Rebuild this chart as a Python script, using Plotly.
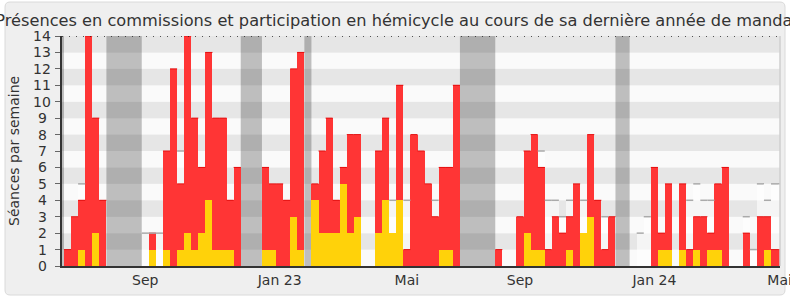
import plotly.graph_objects as go

# ---------------- data (one value per week, bar k centred at x = k) ----------------
weeks = list(range(102))

# total sessions per week (red bar height)
red_total = [
    1, 3, 4, 14, 9, 4,            # k0-5
    0, 0, 0, 0, 0,                # k6-10 (vacances)
    0, 2, 0, 7, 12, 5, 14, 9, 6, 13, 9, 9, 4, 6,   # k11-24
    0, 0, 0,                      # k25-27 (vacances)
    6, 5, 5, 4, 12, 13,           # k28-33
    0,                            # k34 (vacances)
    5, 7, 9, 4, 6, 8, 8, 0, 0, 7, 9, 2, 11, 1, 8, 7, 5, 3, 6, 6, 11,  # k35-55
    0, 0, 0, 0, 0,                # k56-60 (vacances)
    1, 0, 0, 3, 7, 8, 6, 1, 3, 2, 3, 5, 2, 8, 4, 1, 3,   # k61-77
    0, 0,                         # k78-79 (vacances)
    0, 0, 0, 6, 2, 5, 0, 5, 1, 3, 3, 2, 5, 6, 0, 0, 2, 0, 3, 3, 1, 1,  # k80-101
]

# hémicycle participation (yellow, drawn from 0)
yellow = [
    0, 0, 1, 0, 2, 0,
    0, 0, 0, 0, 0,
    0, 1, 0, 1, 0, 1, 2, 1, 2, 4, 1, 1, 1, 0,
    0, 0, 0,
    1, 1, 0, 0, 3, 1,
    0,
    4, 2, 2, 2, 5, 2, 3, 0, 0, 2, 4, 2, 4, 0, 0, 0, 0, 0, 1, 1, 0,
    0, 0, 0, 0, 0,
    0, 0, 0, 0, 2, 1, 1, 0, 0, 0, 1, 0, 2, 3, 0, 0, 0,
    0, 0,
    0, 0, 0, 0, 1, 1, 0, 1, 0, 1, 0, 1, 1, 0, 0, 0, 0, 0, 0, 1, 0, 0,
]

# median deputy (only where visible above the bars)
median = [None] * 102
median_known = {2: 5, 11: 2, 12: 2, 13: 2, 16: 7, 46: 4, 48: 4, 52: 4,
                67: 7, 68: 4, 69: 4, 70: 3, 71: 4, 73: 4, 76: 3, 81: 2, 82: 3,
                88: 4, 89: 5, 90: 4, 91: 4, 96: 3, 97: 1, 98: 5, 99: 4, 100: 5, 101: 5}
for k, v in median_known.items():
    median[k] = v

# parliamentary holidays (first week, last week)
vacations = [(-1, -1), (6, 10), (25, 27), (34, 34), (56, 60), (78, 79)]

tick_weeks = [11, 30, 48, 64, 83, 100.72]
tick_labels = ["Sep", "Jan 23", "Mai", "Sep", "Jan 24", "Mai"]

y_ticks = list(range(0, 15))

title = "Présences en commissions et participation en hémicycle au cours de sa dernière année de mandat"
y_title = "Séances par semaine"

# ---------------- styling ----------------
W, H = 790, 300
ML, MR, MT, MB = 62, 10, 36, 34
PW, PH = W - ML - MR, H - MT - MB
FONT = "DejaVu Sans"
TXT = "#333333"
RED = "#ff3535"
YEL = "#ffd20a"

fig = go.Figure()

# median overlay (lighter columns)
fig.add_trace(go.Bar(x=weeks, y=[m if m is not None else 0 for m in median],
                     marker=dict(color="rgba(255,255,255,0.6)", line=dict(width=0)),
                     hoverinfo="skip", showlegend=False))
# red bars
fig.add_trace(go.Bar(x=weeks, y=red_total, marker=dict(color=RED, line=dict(width=0)),
                     showlegend=False))
# yellow bars
fig.add_trace(go.Bar(x=weeks, y=yellow, marker=dict(color=YEL, line=dict(width=0)),
                     showlegend=False))

# darker red top edge on red bars
ex, ey = [], []
for k, (r, yv) in enumerate(zip(red_total, yellow)):
    if r > yv:
        ex += [k - 0.5, k + 0.5, None]
        ey += [r, r, None]
fig.add_trace(go.Scatter(x=ex, y=ey, mode="lines", line=dict(color="#e31010", width=1),
                         hoverinfo="skip", showlegend=False))

# median top lines
mx, my = [], []
for k, m in enumerate(median):
    if m is not None:
        mx += [k - 0.5, k + 0.5, None]
        my += [m, m, None]
fig.add_trace(go.Scatter(x=mx, y=my, mode="lines", line=dict(color="#aaaaaa", width=1.5),
                         hoverinfo="skip", showlegend=False))

shapes = []
# rounded panel
def px2paper_x(px):
    return (px - ML) / PW

def px2paper_y(py):
    return (H - MB - py) / PH

x0, x1 = px2paper_x(5), px2paper_x(785)
y0, y1 = px2paper_y(295), px2paper_y(2)
rx, ry = 5 / PW, 5 / PH
path = (f"M {x0+rx},{y0} L {x1-rx},{y0} Q {x1},{y0} {x1},{y0+ry} L {x1},{y1-ry} "
        f"Q {x1},{y1} {x1-rx},{y1} L {x0+rx},{y1} Q {x0},{y1} {x0},{y1-ry} "
        f"L {x0},{y0+ry} Q {x0},{y0} {x0+rx},{y0} Z")
shapes.append(dict(type="path", path=path, xref="paper", yref="paper",
                   fillcolor="#efefef", line=dict(color="#dadada", width=1), layer="below"))
# horizontal stripes
for v in y_ticks[:-1]:
    shapes.append(dict(type="rect", xref="paper", yref="y", x0=0, x1=1, y0=v, y1=v + 1,
                       fillcolor="#e6e6e6" if v % 2 == 1 else "#fafafa",
                       line=dict(width=0), layer="below"))
# holidays
for a, b in vacations:
    shapes.append(dict(type="rect", xref="x", yref="paper", x0=a - 0.5, x1=b + 0.5, y0=0, y1=1,
                       fillcolor="rgba(0,0,0,0.24)", line=dict(width=0), layer="below"))
# dotted top line
shapes.append(dict(type="line", xref="paper", yref="y", x0=0, x1=1, y0=14, y1=14,
                   line=dict(color="#222222", width=1.5, dash="1px,6px"), layer="above"))
# right border
shapes.append(dict(type="line", xref="paper", yref="paper", x0=1, x1=1, y0=0, y1=1,
                   line=dict(color="#cfcfcf", width=1.5), layer="above"))

annotations = []
for v in y_ticks:
    annotations.append(dict(x=px2paper_x(42), xref="paper", y=v, yref="y", text=str(v),
                            showarrow=False, xanchor="center", yanchor="middle",
                            font=dict(family=FONT, size=14, color=TXT)))
annotations.append(dict(x=px2paper_x(14), xref="paper", y=0.5, yref="paper", text=y_title,
                        textangle=-90, showarrow=False, xanchor="center", yanchor="middle",
                        font=dict(family=FONT, size=14, color=TXT)))

fig.update_layout(
    width=W, height=H,
    margin=dict(l=ML, r=MR, t=MT, b=MB, pad=0, autoexpand=False),
    paper_bgcolor="#ffffff",
    plot_bgcolor="rgba(0,0,0,0)",
    barmode="overlay", bargap=0,
    title=dict(text=title, x=397 / W, xref="container", xanchor="center",
               y=1 - 20 / H, yref="container", yanchor="middle",
               font=dict(family=FONT, size=16.2, color=TXT)),
    font=dict(family=FONT, size=14, color=TXT),
    shapes=shapes,
    annotations=annotations,
    showlegend=False,
)
fig.update_xaxes(range=[-0.78, 100.77], tickvals=tick_weeks, ticktext=tick_labels,
                 showgrid=False, zeroline=False, showline=True, linecolor="#333333",
                 linewidth=1.5, ticks="", ticklabeloverflow="allow", automargin=False,
                 tickfont=dict(family=FONT, size=14, color=TXT))
fig.update_yaxes(range=[0, 14], tickvals=y_ticks, showticklabels=False, automargin=False,
                 showgrid=False, zeroline=False, showline=True, linecolor="#333333",
                 linewidth=1.5, ticks="outside", ticklen=5, tickcolor="#666666")

fig.write_html("out.html")
